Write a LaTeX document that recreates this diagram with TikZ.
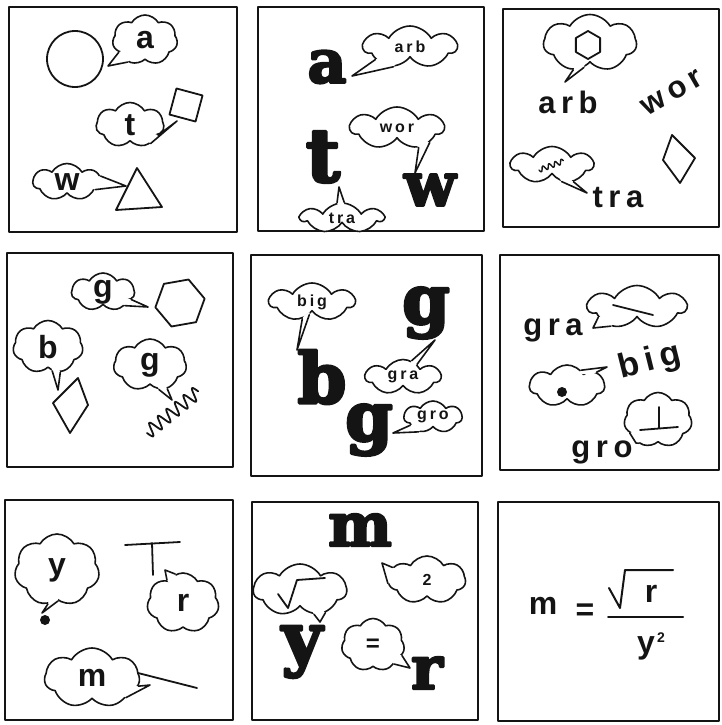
\documentclass[tikz,border=0pt]{standalone}
\usepackage{fontspec}
\setmainfont{Liberation Sans}
\newfontfamily\saysans[LetterSpace=18]{Liberation Sans}
\newfontfamily\heavyserif[FakeBold=4]{DejaVu Serif}
\usetikzlibrary{calc,shapes.symbols,shapes.geometric}
\definecolor{ink}{HTML}{141414}

% tail of a speech cloud: node, two border angles, tip
\newcommand{\saytail}[4]{%
  \fill[white] ($(#1.#2)!0.2!(#1.center)$) -- (#1.#2) -- (#4) -- (#1.#3) -- ($(#1.#3)!0.2!(#1.center)$) -- cycle;
  \draw[ink,line width=1.6pt] (#1.#2) -- (#4) -- (#1.#3);}

\begin{document}
\begin{tikzpicture}[
  x=1pt, y=-1pt,
  line width=1.8pt,
  line cap=round,
  line join=round,
  bubble/.style={cloud, cloud puffs=7, cloud puff arc=120, cloud ignores aspect,
    draw=ink, fill=white, inner sep=0pt, line width=1.6pt},
  panel/.style={draw=ink, line width=1.7pt},
  sayletter/.style={font=\bfseries\fontsize{32}{32}\selectfont, text=ink},
  sayword/.style={font=\saysans\bfseries\fontsize{16}{16}\selectfont, text=ink},
  bigword/.style={font=\saysans\bfseries\fontsize{31}{31}\selectfont, text=ink, inner sep=0pt},
  heavy/.style={font=\heavyserif\bfseries\fontsize{60}{60}\selectfont, text=ink, inner sep=0pt},
  shapeline/.style={draw=ink, line width=1.8pt, inner sep=0pt}
]
  \useasboundingbox (0,0) rectangle (722,725);

  % panel 1
  \draw[panel] (9,7) rectangle (237,232);
  \draw[ink] (75,59) circle (28pt);
  \node[bubble, minimum width=65pt, minimum height=50pt, sayletter] (c1a) at (145,40) {a};
  \coordinate (p1a) at (108,66);
  \saytail{c1a}{205}{232}{p1a}
  \node[shapeline, minimum size=27pt, rotate=-15] (sq1) at (186,105) {};
  \node[bubble, minimum width=68pt, minimum height=45pt, sayletter] (c1t) at (130,125) {t};
  \coordinate (p1t) at (177,121);
  \saytail{c1t}{318}{340}{p1t}
  \node[bubble, minimum width=68pt, minimum height=37pt, sayletter] (c1w) at (67,182) {w};
  \coordinate (p1w) at (126,186);
  \saytail{c1w}{345}{10}{p1w}
  \draw[ink] (137,168) -- (162,207) -- (116,210) -- cycle;

  % panel 2
  \draw[panel] (258,7) rectangle (484,231);
  \node[heavy] (a2) at (327,67) {a};
  \node[bubble, minimum width=93pt, minimum height=42pt, sayword] (c2arb) at (410,47) {arb};
  \coordinate (p2arb) at (352,76);
  \saytail{c2arb}{200}{230}{p2arb}
  \node[heavy, font=\heavyserif\bfseries\fontsize{74}{74}\selectfont] (t2) at (323,157) {t};
  \node[bubble, minimum width=93pt, minimum height=42pt, sayword] (c2wor) at (397,128) {wor};
  \coordinate (p2wor) at (415,173);
  \saytail{c2wor}{318}{336}{p2wor}
  \node[heavy] (w2) at (430,190) {w};
  \node[bubble, minimum width=82pt, minimum height=30pt, sayword] (c2tra) at (342,218) {tra};
  \coordinate (p2tra) at (339,187);
  \saytail{c2tra}{82}{108}{p2tra}

  % panel 3
  \draw[panel] (503,9) rectangle (719,227);
  \node[bubble, minimum width=93pt, minimum height=57pt] (c3hex) at (590,43) {};
  \coordinate (p3hex) at (565,82);
  \saytail{c3hex}{238}{256}{p3hex}
  \node[shapeline, regular polygon, regular polygon sides=6, minimum size=28pt, rotate=30] (hex3) at (588,45) {};
  \node[bigword] (arb3) at (568,102) {arb};
  \node[bigword, rotate=30] (wor3) at (672,93) {wor};
  \draw[ink] (672,135) -- (695,158) -- (680,183) -- (663,160) -- cycle;
  \node[bubble, minimum width=82pt, minimum height=37pt] (c3wig) at (552,165) {};
  \coordinate (p3wig) at (587,193);
  \saytail{c3wig}{300}{322}{p3wig}
  \draw[ink, line width=1.4pt, shift={(539,170)}, rotate=20]
    plot[domain=0:26, samples=60, smooth] (\x,{2.5*sin(\x*55)});
  \node[bigword] (tra3) at (618,198) {tra};

  % panel 4
  \draw[panel] (7,253) rectangle (233,467);
  \node[bubble, minimum width=63pt, minimum height=38pt, sayletter] (c4g1) at (103,292) {g};
  \coordinate (p4g1) at (148,307);
  \saytail{c4g1}{328}{345}{p4g1}
  \node[shapeline, regular polygon, regular polygon sides=6, minimum size=50pt, rotate=10] (hex4) at (180,303) {};
  \node[bubble, minimum width=70pt, minimum height=53pt, sayletter] (c4b) at (48,347) {b};
  \coordinate (p4b) at (58,390);
  \saytail{c4b}{280}{296}{p4b}
  \draw[ink] (78,378) -- (88,405) -- (70,433) -- (53,403) -- cycle;
  \node[bubble, minimum width=73pt, minimum height=52pt, sayletter] (c4g2) at (150,365) {g};
  \coordinate (p4g2) at (172,400);
  \saytail{c4g2}{290}{306}{p4g2}
  \draw[ink, shift={(147,433)}, rotate=39]
    plot[domain=0:66, samples=140, smooth] (\x,{6.5*sin(\x*32.7)});

  % panel 5
  \draw[panel] (251,255) rectangle (482,476);
  \node[bubble, minimum width=85pt, minimum height=38pt, sayword] (c5big) at (312,302) {big};
  \coordinate (p5big) at (297,350);
  \saytail{c5big}{240}{258}{p5big}
  \node[heavy, font=\heavyserif\bfseries\fontsize{70}{70}\selectfont] (b5) at (322,377) {b};
  \node[heavy, font=\heavyserif\bfseries\fontsize{68}{68}\selectfont] (g5a) at (426,313) {g};
  \node[bubble, minimum width=75pt, minimum height=35pt, sayword] (c5gra) at (403,377) {gra};
  \coordinate (p5gra) at (435,340);
  \saytail{c5gra}{42}{62}{p5gra}
  \node[heavy, font=\heavyserif\bfseries\fontsize{68}{68}\selectfont] (g5b) at (369,430) {g};
  \node[bubble, minimum width=58pt, minimum height=32pt, sayword] (c5gro) at (433,417) {gro};
  \coordinate (p5gro) at (393,433);
  \saytail{c5gro}{200}{226}{p5gro}

  % panel 6
  \draw[panel] (500,255) rectangle (719,470);
  \node[bubble, minimum width=98pt, minimum height=43pt] (c6line) at (637,307) {};
  \coordinate (p6line) at (593,328);
  \saytail{c6line}{195}{216}{p6line}
  \draw[ink] (613,305) -- (653,315);
  \node[bigword] (gra6) at (553,330) {gra};
  \node[bubble, minimum width=75pt, minimum height=42pt] (c6dot) at (567,386) {};
  \coordinate (p6dot) at (607,367);
  \saytail{c6dot}{25}{48}{p6dot}
  \fill[ink] (562,392) circle (5pt);
  \node[bigword, rotate=14, font=\saysans\bfseries\fontsize{34}{34}\selectfont] (big6) at (650,362) {big};
  \node[bubble, minimum width=68pt, minimum height=55pt] (c6perp) at (658,420) {};
  \coordinate (p6perp) at (636,443);
  \saytail{c6perp}{205}{230}{p6perp}
  \draw[ink] (640,430) -- (678,427);
  \draw[ink] (659,407) -- (659,428);
  \node[bigword] (gro6) at (602,452) {gro};

  % panel 7
  \draw[panel] (5,500) rectangle (233,720);
  \node[bubble, minimum width=85pt, minimum height=72pt, sayletter] (c7y) at (57,570) {y};
  \coordinate (p7y) at (42,613);
  \saytail{c7y}{255}{272}{p7y}
  \fill[ink] (45,620) circle (5pt);
  \draw[ink] (125,545) -- (180,542);
  \draw[ink] (152,543) -- (153,575);
  \node[bubble, minimum width=72pt, minimum height=60pt, sayletter] (c7r) at (183,603) {r};
  \coordinate (p7r) at (165,570);
  \saytail{c7r}{105}{125}{p7r}
  \node[bubble, minimum width=95pt, minimum height=60pt, sayletter] (c7m) at (92,678) {m};
  \coordinate (p7m) at (150,685);
  \saytail{c7m}{330}{350}{p7m}
  \draw[ink] (138,673) -- (197,688);

  % panel 8
  \draw[panel] (252,502) rectangle (478,720);
  \node[heavy] (m8) at (360,530) {m};
  \node[bubble, minimum width=93pt, minimum height=52pt] (c8sqrt) at (300,590) {};
  \coordinate (p8sqrt) at (320,622);
  \saytail{c8sqrt}{300}{318}{p8sqrt}
  \draw[ink] (278,594) -- (288,608) -- (297,580) -- (325,578);
  \node[bubble, minimum width=77pt, minimum height=48pt, sayword] (c8two) at (427,580) {2};
  \coordinate (p8two) at (382,563);
  \saytail{c8two}{160}{185}{p8two}
  \node[heavy, font=\heavyserif\bfseries\fontsize{70}{70}\selectfont] (y8) at (302,652) {y};
  \node[bubble, minimum width=63pt, minimum height=53pt, sayletter, font=\bfseries\fontsize{24}{24}\selectfont] (c8eq) at (373,645) {=};
  \coordinate (p8eq) at (410,668);
  \saytail{c8eq}{318}{340}{p8eq}
  \node[heavy] (r8) at (427,673) {r};

  % panel 9
  \draw[panel] (498,502) rectangle (719,721);
  \node[sayletter] (m9) at (543,606) {m};
  \node[sayletter] (eq9) at (585,612) {=};
  \draw[ink, line width=2pt] (608,617) -- (683,617);
  \draw[ink, line width=2pt] (609,588) -- (620,608) -- (625,570) -- (673,570);
  \node[sayletter] (r9) at (651,594) {r};
  \node[sayletter] (y9) at (646,648) {y};
  \node[sayletter, font=\bfseries\fontsize{14}{14}\selectfont] (sq9) at (661,638) {2};
\end{tikzpicture}
\end{document}
